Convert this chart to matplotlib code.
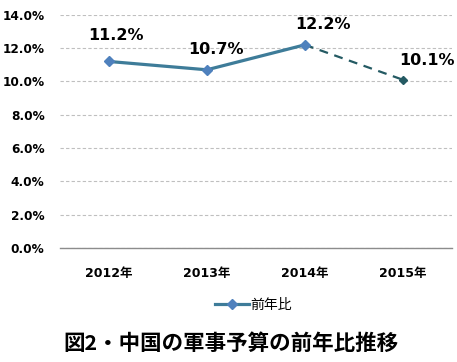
import matplotlib.pyplot as plt
from matplotlib.lines import Line2D

plt.rcParams['font.family'] = ['DejaVu Sans', 'Noto Sans CJK JP']

years = ['2012年', '2013年', '2014年', '2015年']
ratio = [11.2, 10.7, 12.2, 10.1]
labels = ['11.2%', '10.7%', '12.2%', '10.1%']
yticks = [0, 2, 4, 6, 8, 10, 12, 14]

fig = plt.figure(figsize=(4.57, 3.62), dpi=100)
ax = fig.add_axes([0.131, 0.315, 0.858, 0.644])

x = list(range(len(years)))
line_c = '#3E7C99'
mark_c = '#4F81BD'
dark_c = '#245A63'

# solid part 2012-2014
ax.plot(x[:3], ratio[:3], color=line_c, lw=2.3, zorder=3)
ax.plot(x[:3], ratio[:3], ls='none', marker='D', ms=5.5, color=mark_c, zorder=4)
# dashed estimate 2014-2015
ax.plot(x[2:], ratio[2:], color=dark_c, lw=1.6, ls=(0, (4, 3)), zorder=3)
ax.plot(x[3:], ratio[3:], ls='none', marker='D', ms=4.5, color=dark_c, zorder=4)

offsets = [(5, 19), (6.5, 14.5), (13, 14.5), (17, 14)]
for xi, yi, t, off in zip(x, ratio, labels, offsets):
    ax.annotate(t, (xi, yi), xytext=off, textcoords='offset points',
                ha='center', va='center', fontsize=11.5, fontweight='bold')

ax.set_xlim(-0.5, 3.5)
ax.set_ylim(0, 14)
ax.set_yticks(yticks)
ax.set_yticklabels([f'{v:.1f}%' for v in yticks], fontsize=8.7, fontweight='bold')
ax.set_xticks(x)
ax.set_xticklabels(years, fontsize=9, fontweight='bold')
ax.tick_params(length=0, pad=11, axis='y')
ax.tick_params(length=0, pad=14, axis='x')

ax.grid(axis='y', color='#BFBFBF', ls=(0, (3, 2)), lw=0.8)
ax.set_axisbelow(True)
for s in ['top', 'right', 'left']:
    ax.spines[s].set_visible(False)
ax.spines['bottom'].set_color('#8C8C8C')
ax.spines['bottom'].set_linewidth(1)

handle = Line2D([], [], color=line_c, lw=2.3, marker='D', ms=5,
                markerfacecolor=mark_c, markeredgecolor=mark_c)
fig.legend([handle], ['前年比'], loc='center', bbox_to_anchor=(0.555, 0.157),
           frameon=False, handlelength=2.4, handletextpad=0.1,
           prop={'family': ['Noto Sans CJK JP'], 'size': 10})

fig.text(0.505, 0.052, '図2・中国の軍事予算の前年比推移', ha='center', va='center',
         fontsize=15.5, fontweight='bold', family=['Noto Sans CJK JP'])

fig.savefig('out.png', dpi=100)
